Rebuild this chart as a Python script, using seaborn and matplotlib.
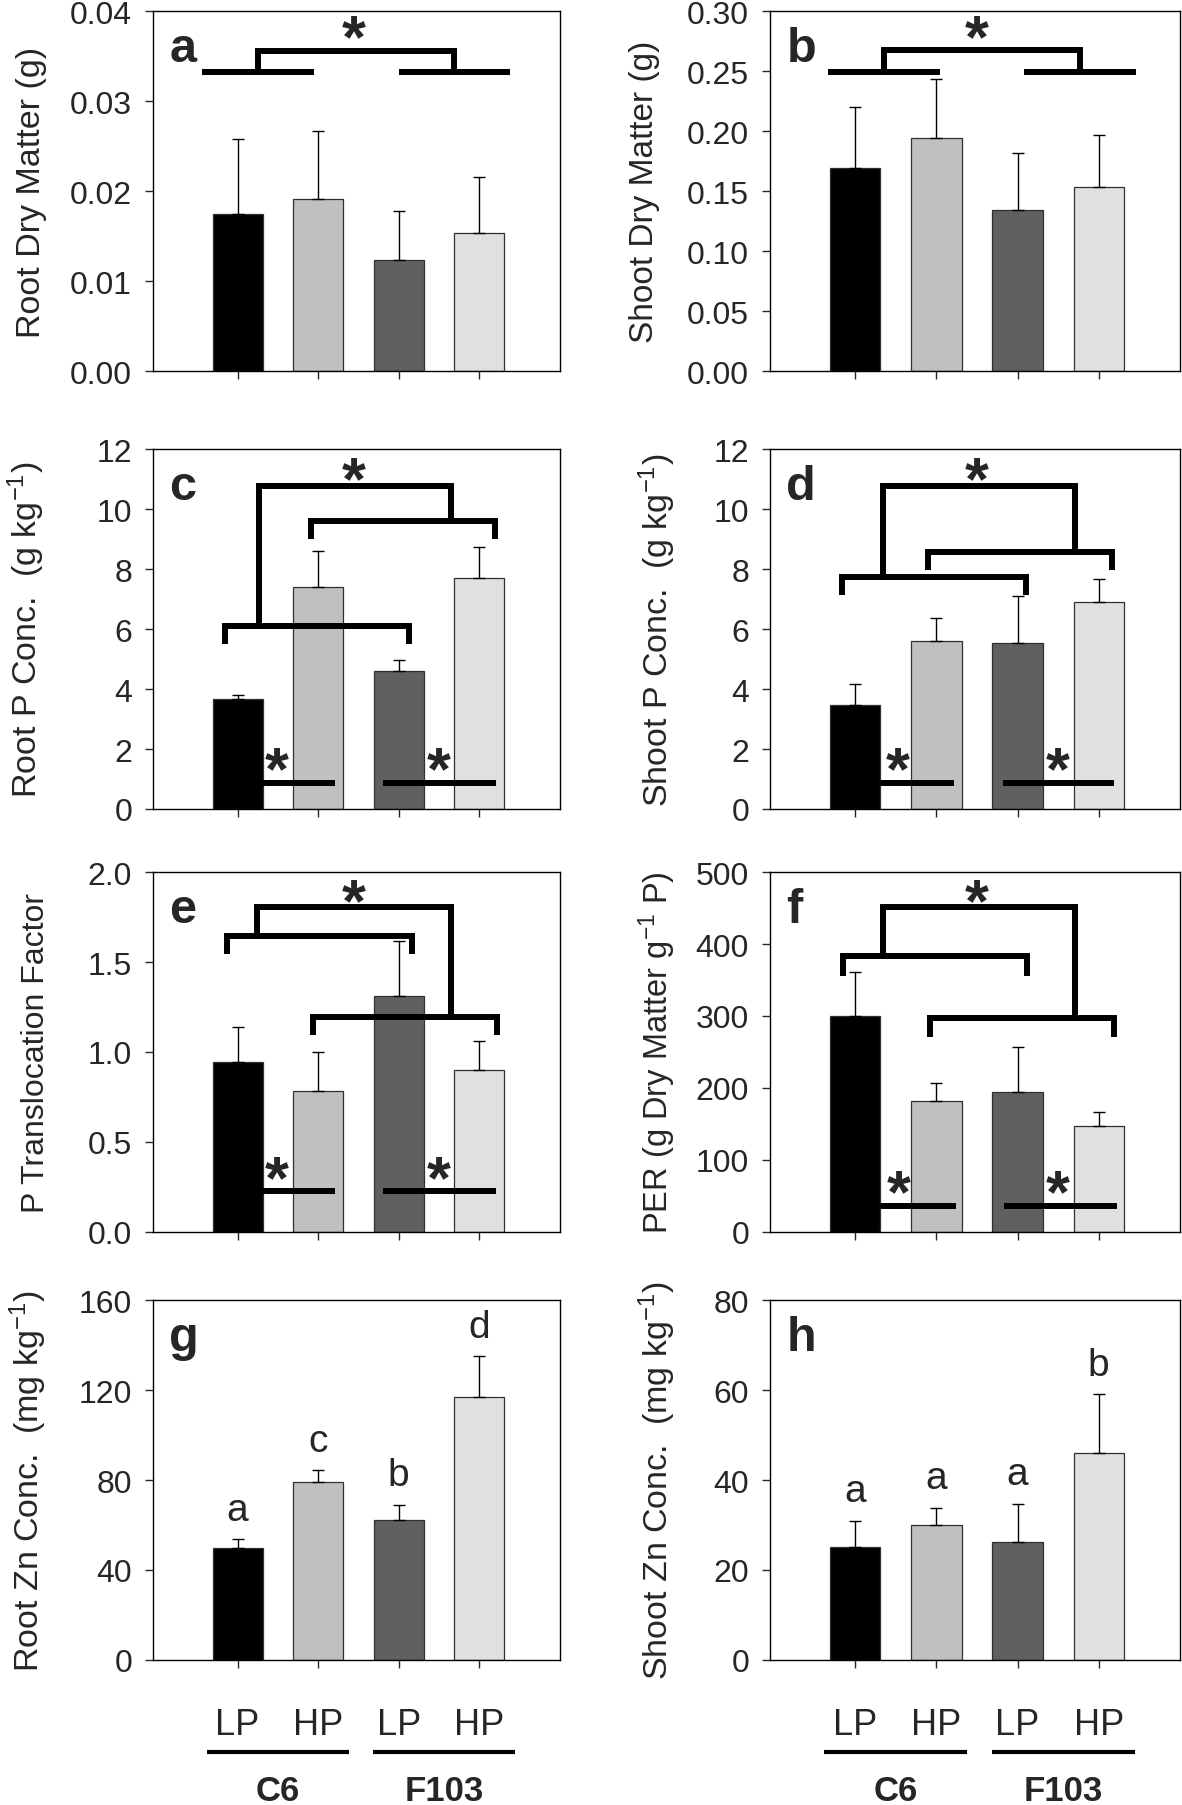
import numpy as np
import pandas as pd
import seaborn as sns
import matplotlib.pyplot as plt
from matplotlib.ticker import FormatStrFormatter
from matplotlib.transforms import offset_copy

sns.set_style("ticks")
plt.rcParams['font.family'] = ['Liberation Sans', 'DejaVu Sans']
plt.rcParams['mathtext.fontset'] = 'custom'
plt.rcParams['mathtext.rm'] = 'Liberation Sans'
plt.rcParams['mathtext.default'] = 'regular'

# treatments (genotype x P level)
treatments = ['C6 LP', 'C6 HP', 'F103 LP', 'F103 HP']
tick_labels = ['LP', 'HP', 'LP', 'HP']
genotypes = ['C6', 'F103']
bar_colors = ['#000000', '#c0c0c0', '#606060', '#e0e0e0']

# means and upper standard errors
root_dm = [0.0174, 0.0191, 0.0123, 0.0153]
root_dm_se = [0.0084, 0.0076, 0.0055, 0.0063]
shoot_dm = [0.169, 0.1946, 0.134, 0.1535]
shoot_dm_se = [0.051, 0.0484, 0.0481, 0.0436]
root_p = [3.67, 7.39, 4.59, 7.71]
root_p_se = [0.13, 1.21, 0.37, 1.03]
shoot_p = [3.47, 5.60, 5.52, 6.89]
shoot_p_se = [0.70, 0.78, 1.58, 0.79]
p_transl = [0.946, 0.783, 1.313, 0.902]
p_transl_se = [0.193, 0.217, 0.304, 0.161]
per = [299.5, 181.5, 194.0, 147.2]
per_se = [61.5, 25.0, 62.5, 19.0]
root_zn = [49.7, 78.9, 62.2, 117.1]
root_zn_se = [3.9, 5.5, 6.8, 17.9]
shoot_zn = [25.2, 30.05, 26.2, 46.1]
shoot_zn_se = [5.8, 3.8, 8.55, 12.97]

root_zn_letters = ['a', 'c', 'b', 'd']
shoot_zn_letters = ['a', 'a', 'a', 'b']

fig = plt.figure(figsize=(11.82, 18.06), dpi=100)

col_left = [0.1294, 0.6514]
col_width = [0.3443, 0.3469]
row_bottom = [0.794, 0.5515, 0.3173, 0.0803]
row_height = 0.1993

panels = [
    dict(tag='a', vals=root_dm, se=root_dm_se, ymax=0.04, step=0.01, fmt='%.2f',
         ylabel='Root Dry Matter (g)', lx=-0.26, lfs=24.5),
    dict(tag='b', vals=shoot_dm, se=shoot_dm_se, ymax=0.30, step=0.05, fmt='%.2f',
         ylabel='Shoot Dry Matter (g)', lx=-0.268, lfs=24),
    dict(tag='c', vals=root_p, se=root_p_se, ymax=12, step=2, fmt='%d',
         ylabel='Root P Conc.  (g kg$^{-1}$)', lx=-0.26),
    dict(tag='d', vals=shoot_p, se=shoot_p_se, ymax=12, step=2, fmt='%d',
         ylabel='Shoot P Conc.  (g kg$^{-1}$)', lx=-0.224),
    dict(tag='e', vals=p_transl, se=p_transl_se, ymax=2.0, step=0.5, fmt='%.1f',
         ylabel='P Translocation Factor', lx=-0.25, lfs=23),
    dict(tag='f', vals=per, se=per_se, ymax=500, step=100, fmt='%d',
         ylabel='PER (g Dry Matter g$^{-1}$ P)', lx=-0.224, lfs=23.5),
    dict(tag='g', vals=root_zn, se=root_zn_se, ymax=160, step=40, fmt='%d',
         ylabel='Root Zn Conc.  (mg kg$^{-1}$)', lx=-0.255, letters=root_zn_letters),
    dict(tag='h', vals=shoot_zn, se=shoot_zn_se, ymax=80, step=20, fmt='%d',
         ylabel='Shoot Zn Conc.  (mg kg$^{-1}$)', lx=-0.224, letters=shoot_zn_letters),
]

# significance annotations: pairs = (x0, x1, y, leg end or None),
# top = (x0, x1, y, left leg end, right leg end), stars = (x, y centre), low = (x0, x1, y)
sig = {
    'a': dict(pairs=[(-0.44, 0.944, 0.0332, None), (2.0, 3.38, 0.0332, None)],
              top=(0.25, 2.69, 0.0356, 0.0332, 0.0332), stars=[(1.44, 0.038)], low=[]),
    'b': dict(pairs=[(-0.34, 1.05, 0.2494, None), (2.08, 3.46, 0.2494, None)],
              top=(0.355, 2.77, 0.2675, 0.2494, 0.2494), stars=[(1.5, 0.285)], low=[]),
    'c': dict(pairs=[(-0.15, 2.13, 6.11, 5.5), (0.91, 3.19, 9.61, 9.0)],
              top=(0.26, 2.65, 10.78, 6.11, 9.61),
              stars=[(1.44, 11.28), (0.48, 1.61), (2.49, 1.61)],
              low=[(0.30, 1.21, 0.87), (1.81, 3.21, 0.87)]),
    'd': dict(pairs=[(-0.16, 2.10, 7.72, 7.13), (0.90, 3.16, 8.58, 7.98)],
              top=(0.34, 2.71, 10.78, 7.72, 8.58),
              stars=[(1.5, 11.28), (0.52, 1.61), (2.49, 1.61)],
              low=[(0.31, 1.22, 0.87), (1.82, 3.19, 0.87)]),
    'e': dict(pairs=[(-0.13, 2.16, 1.644, 1.546), (0.93, 3.22, 1.193, 1.093)],
              top=(0.24, 2.65, 1.804, 1.644, 1.193),
              stars=[(1.44, 1.885), (0.48, 0.348), (2.49, 0.348)],
              low=[(0.30, 1.21, 0.228), (1.81, 3.21, 0.228)]),
    'f': dict(pairs=[(-0.15, 2.12, 383, 356), (0.92, 3.19, 297, 271)],
              top=(0.34, 2.71, 451, 383, 297),
              stars=[(1.5, 471), (0.54, 67), (2.5, 67)],
              low=[(0.31, 1.24, 36), (1.83, 3.22, 36)]),
}

LW = 4.3
star_fs = 44

for i, p in enumerate(panels):
    r, c = divmod(i, 2)
    ax = fig.add_axes([col_left[c], row_bottom[r], col_width[c], row_height])
    df = pd.DataFrame({'trt': treatments, 'val': p['vals']})
    sns.barplot(data=df, x='trt', y='val', hue='trt', palette=bar_colors,
                width=0.62, edgecolor='#303030', linewidth=0.9, saturation=1,
                errorbar=None, legend=False, ax=ax)
    ax.errorbar(np.arange(4), p['vals'], yerr=[np.zeros(4), p['se']], fmt='none',
                ecolor='black', elinewidth=1.0, capsize=4, capthick=1.0, zorder=1)

    ax.set_xlim(-1.05, 4.0)
    ax.set_ylim(0, p['ymax'])
    ax.set_yticks(np.arange(0, p['ymax'] + p['step'] / 2, p['step']))
    ax.yaxis.set_major_formatter(FormatStrFormatter(p['fmt']))
    ax.tick_params(axis='y', labelsize=23, length=6, width=1.0, pad=9, direction='out')
    ax.tick_params(axis='x', length=6, width=1.0, direction='out')
    for s in ax.spines.values():
        s.set_visible(True)
        s.set_linewidth(1.0)
        s.set_color('black')

    ax.set_xlabel('')
    ax.set_ylabel(p['ylabel'], fontsize=p.get('lfs', 24.5))
    ax.yaxis.set_label_coords(p['lx'], 0.5)

    ax.text(0.04, 0.861, p['tag'], transform=ax.transAxes, fontsize=35,
            fontweight='bold', va='baseline', ha='left')

    if r == 3:
        ax.set_xticks(range(4))
        ax.set_xticklabels(tick_labels, fontsize=26)
        ax.tick_params(axis='x', pad=28)
        tr = ax.get_xaxis_transform()
        for (x0, x1), g in zip([(-0.38, 1.38), (1.68, 3.44)], genotypes):
            ax.plot([x0, x1], [-0.256, -0.256], transform=tr, clip_on=False,
                    color='black', lw=3.0, solid_capstyle='butt')
            ax.text((x0 + x1) / 2, -0.318, g, transform=tr, ha='center', va='top',
                    fontsize=25, fontweight='bold')
        lt = offset_copy(ax.transData, fig=fig, y=14, units='points')
        for k, lab in enumerate(p['letters']):
            ax.text(k, p['vals'][k] + p['se'][k], lab, transform=lt,
                    ha='center', va='baseline', fontsize=28)
    else:
        ax.set_xticks(range(4))
        ax.set_xticklabels([])

    if p['tag'] in sig:
        s = sig[p['tag']]
        kw = dict(color='black', lw=LW, solid_capstyle='butt',
                  solid_joinstyle='miter', clip_on=False, zorder=5)
        for x0, x1, y, leg in s['pairs']:
            if leg is None:
                ax.plot([x0, x1], [y, y], **kw)
            else:
                ax.plot([x0, x0, x1, x1], [leg, y, y, leg], **kw)
        x0, x1, y, yl, yr = s['top']
        ax.plot([x0, x0, x1, x1], [yl, y, y, yr], **kw)
        for x0, x1, y in s['low']:
            ax.plot([x0, x1], [y, y], **kw)
        st = offset_copy(ax.transData, fig=fig, y=-0.45 * star_fs, units='points')
        for x, y in s['stars']:
            ax.text(x, y, '*', transform=st, ha='center', va='baseline',
                    fontsize=star_fs, fontweight='bold', zorder=6)

fig.savefig('out.png', dpi=100)
